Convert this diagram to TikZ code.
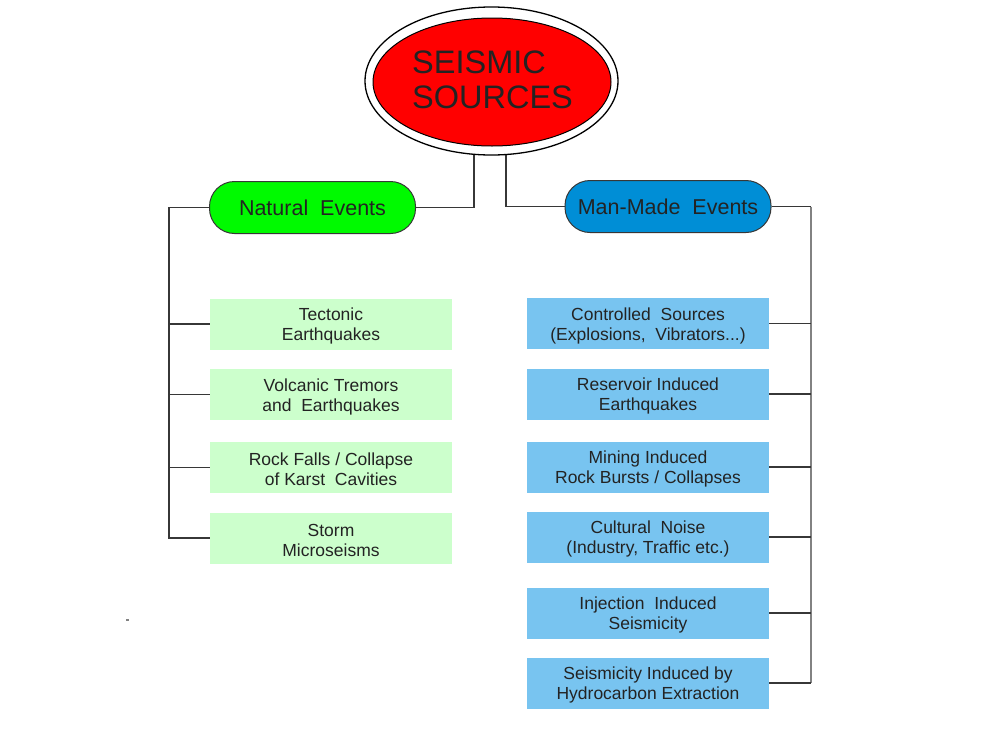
\documentclass[tikz,border=0pt]{standalone}
\usepackage{fontspec}
\setmainfont{Liberation Sans}
\usetikzlibrary{shapes.geometric,backgrounds}
\definecolor{txt}{RGB}{35,35,35}
\definecolor{natgreen}{RGB}{0,250,0}
\definecolor{mmblue}{RGB}{0,142,214}
\definecolor{lgreen}{RGB}{204,255,204}
\definecolor{lblue}{RGB}{120,196,240}
\definecolor{linedark}{RGB}{55,55,55}
\definecolor{linegray}{RGB}{130,130,130}
\begin{document}
\begin{tikzpicture}[x=1pt,y=-1pt,
  pill/.style={draw=linedark, line width=1pt, rounded corners=25pt, minimum width=206pt, minimum height=52pt, inner sep=0pt, text=txt, font=\fontsize{21.5}{24}\selectfont},
  boxtext/.style={align=center, inner sep=0pt, text=txt, font=\fontsize{17.5}{20}\selectfont, yshift=-2pt},
  gbox/.style={fill=lgreen, minimum width=242pt, minimum height=51pt, inner sep=0pt},
  bbox/.style={gbox, fill=lblue},
  conn/.style={draw=linedark, line width=1.5pt},
  spine/.style={draw=linegray, line width=2.2pt}
]
\useasboundingbox (0,0) rectangle (989,731);

% top ellipse
\node[ellipse, draw=black, fill=white, line width=1.3pt, minimum width=253pt, minimum height=148pt, inner sep=0pt] (outer) at (491.5,81) {};
\node[ellipse, draw=black, fill=red, line width=1pt, minimum width=238pt, minimum height=128pt, inner sep=0pt] (src) at (492,82) {};
\node[anchor=west, inner sep=0pt, align=left, text=txt, font=\fontsize{32.5}{35}\selectfont] (title) at (412,79.5) {SEISMIC\\SOURCES};

% category pills
\node[pill, fill=natgreen] (nat) at (312.5,207.5) {Natural\ \ Events};
\node[pill, fill=mmblue] (mm) at (668,206.5) {Man-Made\ \ Events};

% natural boxes
\node[gbox, label={[boxtext]center:{Tectonic\\Earthquakes}}] (n1) at (331,324) {};
\node[gbox, label={[boxtext]center:{Volcanic Tremors\\and~ Earthquakes}}] (n2) at (331,394.5) {};
\node[gbox, label={[boxtext]center:{Rock Falls / Collapse\\of Karst~ Cavities}}] (n3) at (331,467.5) {};
\node[gbox, label={[boxtext]center:{Storm\\Microseisms}}] (n4) at (331,538) {};

% man-made boxes
\node[bbox, label={[boxtext]center:{Controlled~ Sources\\(Explosions,~ Vibrators...)}}] (m1) at (648,323.5) {};
\node[bbox, label={[boxtext]center:{Reservoir Induced\\Earthquakes}}] (m2) at (648,394) {};
\node[bbox, label={[boxtext]center:{Mining Induced\\Rock Bursts / Collapses}}] (m3) at (648,467) {};
\node[bbox, label={[boxtext]center:{Cultural~ Noise\\(Industry, Traffic etc.)}}] (m4) at (648,537) {};
\node[bbox, label={[boxtext]center:{Injection~ Induced\\Seismicity}}] (m5) at (648,613) {};
\node[bbox, label={[boxtext]center:{Seismicity Induced by\\Hydrocarbon Extraction}}] (m6) at (648,683) {};

\coordinate (lsp) at (169,207.5);
\coordinate (rsp) at (811,206.5);
\node[fill=linegray, minimum width=2.5pt, minimum height=1.5pt, inner sep=0pt] (dot) at (127.5,620) {};

\begin{scope}[on background layer]
  \draw[conn] ([xshift=-17.5pt]outer.center) |- (nat.east);
  \draw[conn] ([xshift=14.5pt]outer.center) |- (mm.west);
  \draw[conn] (nat.west) -- (lsp) |- (n4.west);
  \foreach \b in {n1,n2,n3}
    \draw[conn] (\b.west) -- (\b.west -| lsp);
  \draw[spine] (rsp) -- (m6.east -| rsp);
  \draw[conn] (mm.east) -- (rsp);
  \foreach \b in {m1,m2,m3,m4,m5,m6}
    \draw[conn] (\b.east) -- (\b.east -| rsp);
\end{scope}
\end{tikzpicture}
\end{document}
